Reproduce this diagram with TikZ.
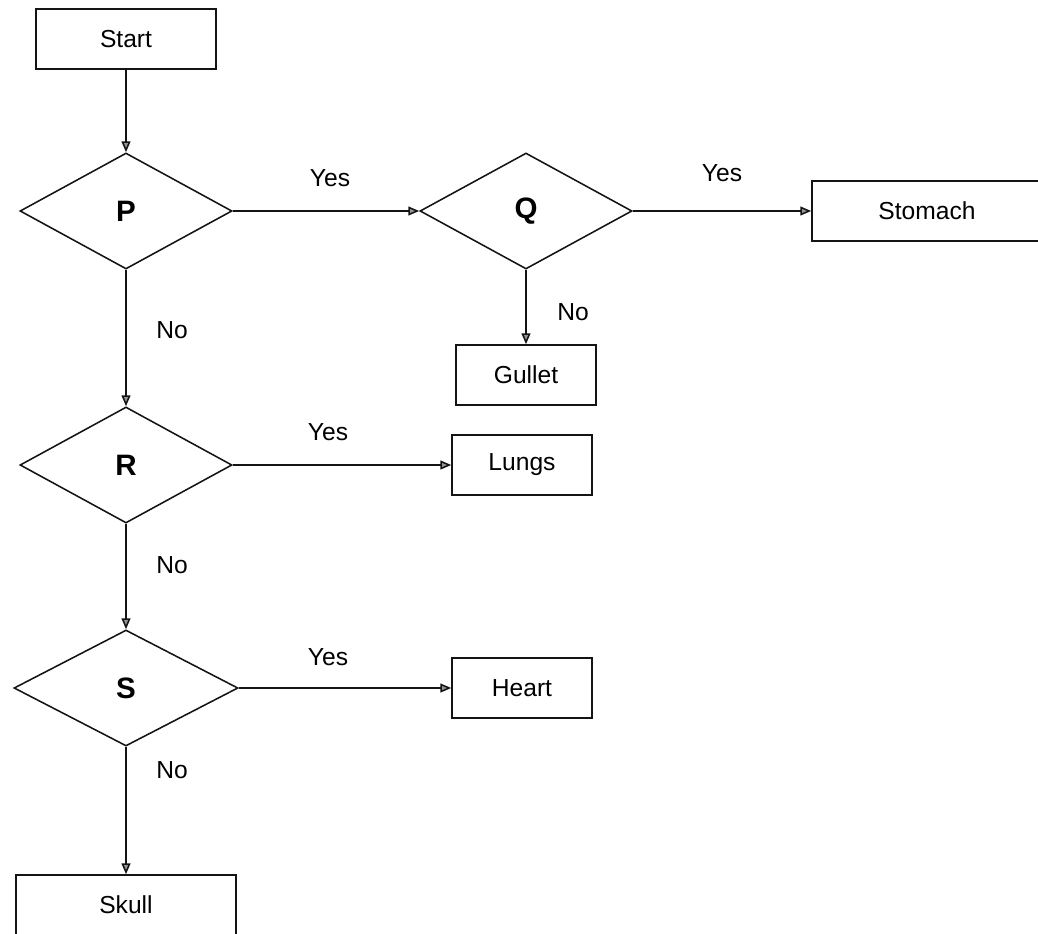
\documentclass[tikz,border=0pt]{standalone}
\usepackage{fontspec}
\setmainfont{Liberation Sans}
\usetikzlibrary{shapes.geometric, arrows.meta}
\definecolor{lineColor}{RGB}{20, 20, 20}
\definecolor{tipFill}{RGB}{150, 150, 150}
\tikzset{
    flow_box/.style={
        rectangle,
        draw=lineColor,
        line width=1.1pt,
        inner sep=0pt,
        minimum height=1.5cm,
        font=\fontsize{17.5}{20}\selectfont
    },
    flow_test/.style={
        diamond,
        draw=lineColor,
        line width=1.1pt,
        inner sep=0pt,
        minimum width=5.3cm,
        minimum height=2.9cm,
        font=\fontsize{21}{24}\selectfont\bfseries
    },
    flow_edge/.style={
        -{Triangle[length=0.27cm, width=0.22cm, fill=tipFill]},
        line width=1.1pt,
        draw=lineColor
    },
    flow_label/.style={
        font=\fontsize{17.5}{20}\selectfont,
        inner sep=0pt
    }
}

\begin{document}
\begin{tikzpicture}[x=0.025cm, y=-0.025cm]
    \useasboundingbox (0,0) rectangle (1038,933);
    \clip (0,0) rectangle (1038,933);

    % tests down the left side
    \node[flow_box, minimum width=4.5cm] (start) at (126,39) {Start};
    \node[flow_test] (p) at (126,211) {P};
    \node[flow_test] (r) at (126,465) {R};
    \node[flow_test, minimum width=5.6cm] (s) at (126,688) {S};
    \node[flow_box, minimum width=5.5cm] (skull) at (126,905) {Skull};

    % branches
    \node[flow_test] (q) at (526,211) {Q};
    \node[flow_box, minimum width=5.75cm] (stomach) at (927,211) {Stomach};
    \node[flow_box, minimum width=3.5cm] (gullet) at (526,375) {Gullet};
    \node[flow_box, minimum width=3.5cm] (lungs) at (522,465) {Lungs};
    \node[flow_box, minimum width=3.5cm] (heart) at (522,688) {Heart};

    \draw[flow_edge] (start) -- (p);
    \draw[flow_edge] (p) -- (q);
    \draw[flow_edge] (q) -- (stomach);
    \draw[flow_edge] (q) -- (gullet);
    \draw[flow_edge] (p) -- (r);
    \draw[flow_edge] (r) -- (lungs);
    \draw[flow_edge] (r) -- (s);
    \draw[flow_edge] (s) -- (heart);
    \draw[flow_edge] (s) -- (skull);

    \node[flow_label] (pq_yes) at (330,178) {Yes};
    \node[flow_label] (qst_yes) at (722,173) {Yes};
    \node[flow_label] (qg_no) at (573,312) {No};
    \node[flow_label] (pr_no) at (172,330) {No};
    \node[flow_label] (rl_yes) at (328,432) {Yes};
    \node[flow_label] (rs_no) at (172,565) {No};
    \node[flow_label] (sh_yes) at (328,657) {Yes};
    \node[flow_label] (ssk_no) at (172,770) {No};
\end{tikzpicture}
\end{document}
